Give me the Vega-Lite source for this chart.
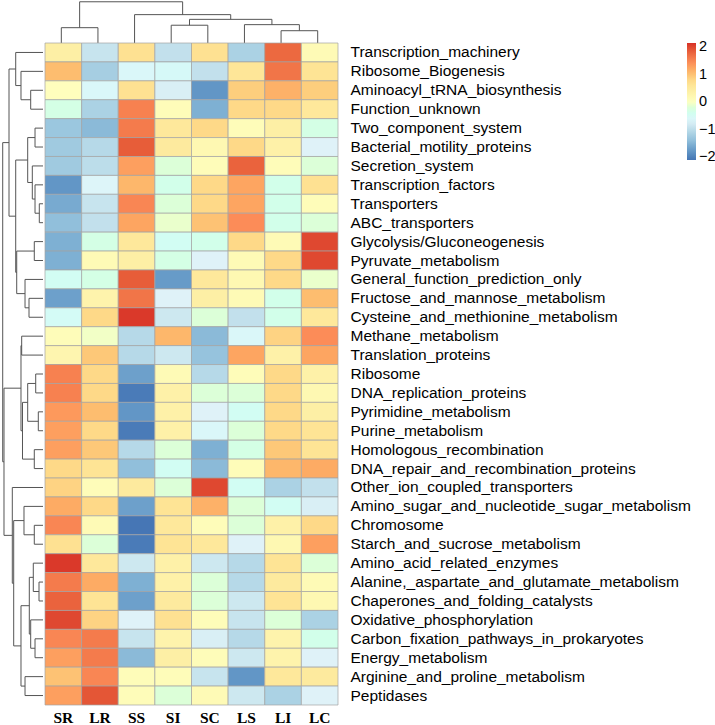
{
"$schema": "https://vega.github.io/schema/vega-lite/v6.json",
"padding": 0,
"background": "white",
"bounds": "flush",
"spacing": 0,
"config": {"view": {"stroke": null}, "concat": {"spacing": 0}},
"datasets": {
"cells": [
{"f":"Transcription_machinery","s":"SR","v":0.4},{"f":"Transcription_machinery","s":"LR","v":-0.9},{"f":"Transcription_machinery","s":"SS","v":0.7},{"f":"Transcription_machinery","s":"SI","v":-0.95},{"f":"Transcription_machinery","s":"SC","v":0.7},{"f":"Transcription_machinery","s":"LS","v":-1.15},{"f":"Transcription_machinery","s":"LI","v":1.75},{"f":"Transcription_machinery","s":"LC","v":0.15},
{"f":"Ribosome_Biogenesis","s":"SR","v":1.05},{"f":"Ribosome_Biogenesis","s":"LR","v":-1.2},{"f":"Ribosome_Biogenesis","s":"SS","v":-0.6},{"f":"Ribosome_Biogenesis","s":"SI","v":-0.55},{"f":"Ribosome_Biogenesis","s":"SC","v":-0.95},{"f":"Ribosome_Biogenesis","s":"LS","v":0.6},{"f":"Ribosome_Biogenesis","s":"LI","v":1.65},{"f":"Ribosome_Biogenesis","s":"LC","v":0.65},
{"f":"Aminoacyl_tRNA_biosynthesis","s":"SR","v":0.05},{"f":"Aminoacyl_tRNA_biosynthesis","s":"LR","v":-0.6},{"f":"Aminoacyl_tRNA_biosynthesis","s":"SS","v":0.7},{"f":"Aminoacyl_tRNA_biosynthesis","s":"SI","v":-0.75},{"f":"Aminoacyl_tRNA_biosynthesis","s":"SC","v":-1.8},{"f":"Aminoacyl_tRNA_biosynthesis","s":"LS","v":0.9},{"f":"Aminoacyl_tRNA_biosynthesis","s":"LI","v":1.15},{"f":"Aminoacyl_tRNA_biosynthesis","s":"LC","v":0.9},
{"f":"Function_unknown","s":"SR","v":-0.3},{"f":"Function_unknown","s":"LR","v":-1.15},{"f":"Function_unknown","s":"SS","v":1.55},{"f":"Function_unknown","s":"SI","v":0.1},{"f":"Function_unknown","s":"SC","v":-1.55},{"f":"Function_unknown","s":"LS","v":0.8},{"f":"Function_unknown","s":"LI","v":0.8},{"f":"Function_unknown","s":"LC","v":0.55},
{"f":"Two_component_system","s":"SR","v":-1.3},{"f":"Two_component_system","s":"LR","v":-1.45},{"f":"Two_component_system","s":"SS","v":1.6},{"f":"Two_component_system","s":"SI","v":0.55},{"f":"Two_component_system","s":"SC","v":0.8},{"f":"Two_component_system","s":"LS","v":0.1},{"f":"Two_component_system","s":"LI","v":0.4},{"f":"Two_component_system","s":"LC","v":-0.3},
{"f":"Bacterial_motility_proteins","s":"SR","v":-1.25},{"f":"Bacterial_motility_proteins","s":"LR","v":-1.05},{"f":"Bacterial_motility_proteins","s":"SS","v":1.85},{"f":"Bacterial_motility_proteins","s":"SI","v":0.5},{"f":"Bacterial_motility_proteins","s":"SC","v":0.2},{"f":"Bacterial_motility_proteins","s":"LS","v":0.8},{"f":"Bacterial_motility_proteins","s":"LI","v":0.35},{"f":"Bacterial_motility_proteins","s":"LC","v":-0.7},
{"f":"Secretion_system","s":"SR","v":-1.25},{"f":"Secretion_system","s":"LR","v":-1.0},{"f":"Secretion_system","s":"SS","v":1.3},{"f":"Secretion_system","s":"SI","v":-0.2},{"f":"Secretion_system","s":"SC","v":0.1},{"f":"Secretion_system","s":"LS","v":1.8},{"f":"Secretion_system","s":"LI","v":0.1},{"f":"Secretion_system","s":"LC","v":-0.2},
{"f":"Transcription_factors","s":"SR","v":-1.8},{"f":"Transcription_factors","s":"LR","v":-0.65},{"f":"Transcription_factors","s":"SS","v":1.1},{"f":"Transcription_factors","s":"SI","v":-0.35},{"f":"Transcription_factors","s":"SC","v":0.8},{"f":"Transcription_factors","s":"LS","v":1.25},{"f":"Transcription_factors","s":"LI","v":-0.35},{"f":"Transcription_factors","s":"LC","v":0.7},
{"f":"Transporters","s":"SR","v":-1.6},{"f":"Transporters","s":"LR","v":-0.9},{"f":"Transporters","s":"SS","v":1.5},{"f":"Transporters","s":"SI","v":-0.2},{"f":"Transporters","s":"SC","v":0.8},{"f":"Transporters","s":"LS","v":1.25},{"f":"Transporters","s":"LI","v":-0.35},{"f":"Transporters","s":"LC","v":0.1},
{"f":"ABC_transporters","s":"SR","v":-1.4},{"f":"ABC_transporters","s":"LR","v":-0.95},{"f":"ABC_transporters","s":"SS","v":1.25},{"f":"ABC_transporters","s":"SI","v":-0.1},{"f":"ABC_transporters","s":"SC","v":1.0},{"f":"ABC_transporters","s":"LS","v":1.45},{"f":"ABC_transporters","s":"LI","v":-0.35},{"f":"ABC_transporters","s":"LC","v":-0.2},
{"f":"Glycolysis/Gluconeogenesis","s":"SR","v":-1.55},{"f":"Glycolysis/Gluconeogenesis","s":"LR","v":-0.3},{"f":"Glycolysis/Gluconeogenesis","s":"SS","v":0.55},{"f":"Glycolysis/Gluconeogenesis","s":"SI","v":-0.45},{"f":"Glycolysis/Gluconeogenesis","s":"SC","v":-0.35},{"f":"Glycolysis/Gluconeogenesis","s":"LS","v":0.8},{"f":"Glycolysis/Gluconeogenesis","s":"LI","v":0.15},{"f":"Glycolysis/Gluconeogenesis","s":"LC","v":2.0},
{"f":"Pyruvate_metabolism","s":"SR","v":-1.55},{"f":"Pyruvate_metabolism","s":"LR","v":0.15},{"f":"Pyruvate_metabolism","s":"SS","v":0.4},{"f":"Pyruvate_metabolism","s":"SI","v":-0.3},{"f":"Pyruvate_metabolism","s":"SC","v":-0.7},{"f":"Pyruvate_metabolism","s":"LS","v":0.15},{"f":"Pyruvate_metabolism","s":"LI","v":0.8},{"f":"Pyruvate_metabolism","s":"LC","v":2.0},
{"f":"General_function_prediction_only","s":"SR","v":-0.45},{"f":"General_function_prediction_only","s":"LR","v":-0.3},{"f":"General_function_prediction_only","s":"SS","v":1.85},{"f":"General_function_prediction_only","s":"SI","v":-1.75},{"f":"General_function_prediction_only","s":"SC","v":0.55},{"f":"General_function_prediction_only","s":"LS","v":0.2},{"f":"General_function_prediction_only","s":"LI","v":0.8},{"f":"General_function_prediction_only","s":"LC","v":-0.1},
{"f":"Fructose_and_mannose_metabolism","s":"SR","v":-1.7},{"f":"Fructose_and_mannose_metabolism","s":"LR","v":0.3},{"f":"Fructose_and_mannose_metabolism","s":"SS","v":1.65},{"f":"Fructose_and_mannose_metabolism","s":"SI","v":-0.7},{"f":"Fructose_and_mannose_metabolism","s":"SC","v":0.4},{"f":"Fructose_and_mannose_metabolism","s":"LS","v":0.15},{"f":"Fructose_and_mannose_metabolism","s":"LI","v":-0.35},{"f":"Fructose_and_mannose_metabolism","s":"LC","v":1.05},
{"f":"Cysteine_and_methionine_metabolism","s":"SR","v":-0.5},{"f":"Cysteine_and_methionine_metabolism","s":"LR","v":0.8},{"f":"Cysteine_and_methionine_metabolism","s":"SS","v":2.1},{"f":"Cysteine_and_methionine_metabolism","s":"SI","v":-0.85},{"f":"Cysteine_and_methionine_metabolism","s":"SC","v":-0.2},{"f":"Cysteine_and_methionine_metabolism","s":"LS","v":-0.95},{"f":"Cysteine_and_methionine_metabolism","s":"LI","v":-0.35},{"f":"Cysteine_and_methionine_metabolism","s":"LC","v":0.55},
{"f":"Methane_metabolism","s":"SR","v":0.1},{"f":"Methane_metabolism","s":"LR","v":-0.05},{"f":"Methane_metabolism","s":"SS","v":-1.05},{"f":"Methane_metabolism","s":"SI","v":1.1},{"f":"Methane_metabolism","s":"SC","v":-1.45},{"f":"Methane_metabolism","s":"LS","v":-0.6},{"f":"Methane_metabolism","s":"LI","v":0.85},{"f":"Methane_metabolism","s":"LC","v":1.45},
{"f":"Translation_proteins","s":"SR","v":0.25},{"f":"Translation_proteins","s":"LR","v":0.95},{"f":"Translation_proteins","s":"SS","v":-1.05},{"f":"Translation_proteins","s":"SI","v":-0.85},{"f":"Translation_proteins","s":"SC","v":-1.35},{"f":"Translation_proteins","s":"LS","v":1.25},{"f":"Translation_proteins","s":"LI","v":0.35},{"f":"Translation_proteins","s":"LC","v":1.25},
{"f":"Ribosome","s":"SR","v":1.55},{"f":"Ribosome","s":"LR","v":0.8},{"f":"Ribosome","s":"SS","v":-1.7},{"f":"Ribosome","s":"SI","v":0.15},{"f":"Ribosome","s":"SC","v":-1.05},{"f":"Ribosome","s":"LS","v":0.1},{"f":"Ribosome","s":"LI","v":0.8},{"f":"Ribosome","s":"LC","v":0.35},
{"f":"DNA_replication_proteins","s":"SR","v":1.55},{"f":"DNA_replication_proteins","s":"LR","v":0.8},{"f":"DNA_replication_proteins","s":"SS","v":-2.05},{"f":"DNA_replication_proteins","s":"SI","v":0.35},{"f":"DNA_replication_proteins","s":"SC","v":-0.2},{"f":"DNA_replication_proteins","s":"LS","v":-0.2},{"f":"DNA_replication_proteins","s":"LI","v":0.8},{"f":"DNA_replication_proteins","s":"LC","v":0.2},
{"f":"Pyrimidine_metabolism","s":"SR","v":1.35},{"f":"Pyrimidine_metabolism","s":"LR","v":1.05},{"f":"Pyrimidine_metabolism","s":"SS","v":-1.8},{"f":"Pyrimidine_metabolism","s":"SI","v":0.35},{"f":"Pyrimidine_metabolism","s":"SC","v":-0.7},{"f":"Pyrimidine_metabolism","s":"LS","v":-0.45},{"f":"Pyrimidine_metabolism","s":"LI","v":0.8},{"f":"Pyrimidine_metabolism","s":"LC","v":0.4},
{"f":"Purine_metabolism","s":"SR","v":1.3},{"f":"Purine_metabolism","s":"LR","v":0.8},{"f":"Purine_metabolism","s":"SS","v":-2.05},{"f":"Purine_metabolism","s":"SI","v":0.35},{"f":"Purine_metabolism","s":"SC","v":-0.6},{"f":"Purine_metabolism","s":"LS","v":-0.2},{"f":"Purine_metabolism","s":"LI","v":0.8},{"f":"Purine_metabolism","s":"LC","v":0.65},
{"f":"Homologous_recombination","s":"SR","v":1.3},{"f":"Homologous_recombination","s":"LR","v":0.95},{"f":"Homologous_recombination","s":"SS","v":-1.05},{"f":"Homologous_recombination","s":"SI","v":-0.2},{"f":"Homologous_recombination","s":"SC","v":-1.55},{"f":"Homologous_recombination","s":"LS","v":-0.3},{"f":"Homologous_recombination","s":"LI","v":0.95},{"f":"Homologous_recombination","s":"LC","v":0.65},
{"f":"DNA_repair_and_recombination_proteins","s":"SR","v":0.8},{"f":"DNA_repair_and_recombination_proteins","s":"LR","v":0.65},{"f":"DNA_repair_and_recombination_proteins","s":"SS","v":-1.4},{"f":"DNA_repair_and_recombination_proteins","s":"SI","v":-0.45},{"f":"DNA_repair_and_recombination_proteins","s":"SC","v":-1.45},{"f":"DNA_repair_and_recombination_proteins","s":"LS","v":0.1},{"f":"DNA_repair_and_recombination_proteins","s":"LI","v":1.1},{"f":"DNA_repair_and_recombination_proteins","s":"LC","v":1.2},
{"f":"Other_ion_coupled_transporters","s":"SR","v":0.85},{"f":"Other_ion_coupled_transporters","s":"LR","v":0.1},{"f":"Other_ion_coupled_transporters","s":"SS","v":0.5},{"f":"Other_ion_coupled_transporters","s":"SI","v":-0.2},{"f":"Other_ion_coupled_transporters","s":"SC","v":2.0},{"f":"Other_ion_coupled_transporters","s":"LS","v":-0.45},{"f":"Other_ion_coupled_transporters","s":"LI","v":-1.15},{"f":"Other_ion_coupled_transporters","s":"LC","v":-0.95},
{"f":"Amino_sugar_and_nucleotide_sugar_metabolism","s":"SR","v":1.2},{"f":"Amino_sugar_and_nucleotide_sugar_metabolism","s":"LR","v":0.8},{"f":"Amino_sugar_and_nucleotide_sugar_metabolism","s":"SS","v":-1.7},{"f":"Amino_sugar_and_nucleotide_sugar_metabolism","s":"SI","v":0.65},{"f":"Amino_sugar_and_nucleotide_sugar_metabolism","s":"SC","v":1.15},{"f":"Amino_sugar_and_nucleotide_sugar_metabolism","s":"LS","v":-0.2},{"f":"Amino_sugar_and_nucleotide_sugar_metabolism","s":"LI","v":-0.45},{"f":"Amino_sugar_and_nucleotide_sugar_metabolism","s":"LC","v":-0.75},
{"f":"Chromosome","s":"SR","v":1.5},{"f":"Chromosome","s":"LR","v":0.15},{"f":"Chromosome","s":"SS","v":-2.1},{"f":"Chromosome","s":"SI","v":0.55},{"f":"Chromosome","s":"SC","v":0.1},{"f":"Chromosome","s":"LS","v":-0.2},{"f":"Chromosome","s":"LI","v":0.35},{"f":"Chromosome","s":"LC","v":0.8},
{"f":"Starch_and_sucrose_metabolism","s":"SR","v":0.7},{"f":"Starch_and_sucrose_metabolism","s":"LR","v":-0.2},{"f":"Starch_and_sucrose_metabolism","s":"SS","v":-2.05},{"f":"Starch_and_sucrose_metabolism","s":"SI","v":0.65},{"f":"Starch_and_sucrose_metabolism","s":"SC","v":0.55},{"f":"Starch_and_sucrose_metabolism","s":"LS","v":-0.7},{"f":"Starch_and_sucrose_metabolism","s":"LI","v":0.2},{"f":"Starch_and_sucrose_metabolism","s":"LC","v":1.3},
{"f":"Amino_acid_related_enzymes","s":"SR","v":2.1},{"f":"Amino_acid_related_enzymes","s":"LR","v":0.55},{"f":"Amino_acid_related_enzymes","s":"SS","v":-0.85},{"f":"Amino_acid_related_enzymes","s":"SI","v":0.35},{"f":"Amino_acid_related_enzymes","s":"SC","v":-0.85},{"f":"Amino_acid_related_enzymes","s":"LS","v":-1.05},{"f":"Amino_acid_related_enzymes","s":"LI","v":0.65},{"f":"Amino_acid_related_enzymes","s":"LC","v":-0.2},
{"f":"Alanine,_aspartate_and_glutamate_metabolism","s":"SR","v":1.6},{"f":"Alanine,_aspartate_and_glutamate_metabolism","s":"LR","v":1.2},{"f":"Alanine,_aspartate_and_glutamate_metabolism","s":"SS","v":-1.55},{"f":"Alanine,_aspartate_and_glutamate_metabolism","s":"SI","v":0.35},{"f":"Alanine,_aspartate_and_glutamate_metabolism","s":"SC","v":-0.2},{"f":"Alanine,_aspartate_and_glutamate_metabolism","s":"LS","v":-1.05},{"f":"Alanine,_aspartate_and_glutamate_metabolism","s":"LI","v":0.5},{"f":"Alanine,_aspartate_and_glutamate_metabolism","s":"LC","v":0.15},
{"f":"Chaperones_and_folding_catalysts","s":"SR","v":1.8},{"f":"Chaperones_and_folding_catalysts","s":"LR","v":0.65},{"f":"Chaperones_and_folding_catalysts","s":"SS","v":-1.7},{"f":"Chaperones_and_folding_catalysts","s":"SI","v":0.5},{"f":"Chaperones_and_folding_catalysts","s":"SC","v":-0.2},{"f":"Chaperones_and_folding_catalysts","s":"LS","v":-0.85},{"f":"Chaperones_and_folding_catalysts","s":"LI","v":0.65},{"f":"Chaperones_and_folding_catalysts","s":"LC","v":0.2},
{"f":"Oxidative_phosphorylation","s":"SR","v":2.0},{"f":"Oxidative_phosphorylation","s":"LR","v":0.85},{"f":"Oxidative_phosphorylation","s":"SS","v":-0.7},{"f":"Oxidative_phosphorylation","s":"SI","v":0.7},{"f":"Oxidative_phosphorylation","s":"SC","v":0.1},{"f":"Oxidative_phosphorylation","s":"LS","v":-0.9},{"f":"Oxidative_phosphorylation","s":"LI","v":-0.2},{"f":"Oxidative_phosphorylation","s":"LC","v":-1.15},
{"f":"Carbon_fixation_pathways_in_prokaryotes","s":"SR","v":1.5},{"f":"Carbon_fixation_pathways_in_prokaryotes","s":"LR","v":1.6},{"f":"Carbon_fixation_pathways_in_prokaryotes","s":"SS","v":-0.9},{"f":"Carbon_fixation_pathways_in_prokaryotes","s":"SI","v":0.3},{"f":"Carbon_fixation_pathways_in_prokaryotes","s":"SC","v":-0.75},{"f":"Carbon_fixation_pathways_in_prokaryotes","s":"LS","v":-1.05},{"f":"Carbon_fixation_pathways_in_prokaryotes","s":"LI","v":0.3},{"f":"Carbon_fixation_pathways_in_prokaryotes","s":"LC","v":-0.35},
{"f":"Energy_metabolism","s":"SR","v":1.3},{"f":"Energy_metabolism","s":"LR","v":1.6},{"f":"Energy_metabolism","s":"SS","v":-1.45},{"f":"Energy_metabolism","s":"SI","v":0.4},{"f":"Energy_metabolism","s":"SC","v":0.1},{"f":"Energy_metabolism","s":"LS","v":-0.85},{"f":"Energy_metabolism","s":"LI","v":0.3},{"f":"Energy_metabolism","s":"LC","v":-0.7},
{"f":"Arginine_and_proline_metabolism","s":"SR","v":1.0},{"f":"Arginine_and_proline_metabolism","s":"LR","v":1.5},{"f":"Arginine_and_proline_metabolism","s":"SS","v":0.1},{"f":"Arginine_and_proline_metabolism","s":"SI","v":0.1},{"f":"Arginine_and_proline_metabolism","s":"SC","v":-0.9},{"f":"Arginine_and_proline_metabolism","s":"LS","v":-1.8},{"f":"Arginine_and_proline_metabolism","s":"LI","v":0.55},{"f":"Arginine_and_proline_metabolism","s":"LC","v":0.5},
{"f":"Peptidases","s":"SR","v":1.3},{"f":"Peptidases","s":"LR","v":1.9},{"f":"Peptidases","s":"SS","v":0.1},{"f":"Peptidases","s":"SI","v":-0.2},{"f":"Peptidases","s":"SC","v":0.15},{"f":"Peptidases","s":"LS","v":-0.85},{"f":"Peptidases","s":"LI","v":-1.15},{"f":"Peptidases","s":"LC","v":-0.7}
],
"rowtree": [
{"h":0.336,"a":2.5,"ha":0,"b":3.5,"hb":0},
{"h":0.601,"a":1.5,"ha":0,"b":3.0,"hb":0.336},
{"h":0.745,"a":0.5,"ha":0,"b":2.25,"hb":0.601},
{"h":0.218,"a":4.5,"ha":0,"b":5.5,"hb":0},
{"h":0.101,"a":8.5,"ha":0,"b":9.5,"hb":0},
{"h":0.218,"a":7.5,"ha":0,"b":9.0,"hb":0.101},
{"h":0.292,"a":6.5,"ha":0,"b":8.25,"hb":0.218},
{"h":0.418,"a":5.0,"ha":0.218,"b":7.375,"hb":0.292},
{"h":0.238,"a":10.5,"ha":0,"b":11.5,"hb":0},
{"h":0.382,"a":13.5,"ha":0,"b":14.5,"hb":0},
{"h":0.491,"a":12.5,"ha":0,"b":14.0,"hb":0.382},
{"h":0.718,"a":11.0,"ha":0.238,"b":13.25,"hb":0.491},
{"h":0.745,"a":6.1875,"ha":0.418,"b":12.125,"hb":0.718},
{"h":0.928,"a":1.375,"ha":0.745,"b":9.15625,"hb":0.745},
{"h":0.582,"a":15.5,"ha":0,"b":16.5,"hb":0},
{"h":0.199,"a":17.5,"ha":0,"b":18.5,"hb":0},
{"h":0.128,"a":19.5,"ha":0,"b":20.5,"hb":0},
{"h":0.418,"a":18.0,"ha":0.199,"b":20.0,"hb":0.128},
{"h":0.238,"a":21.5,"ha":0,"b":22.5,"hb":0},
{"h":0.56,"a":19.0,"ha":0.418,"b":22.0,"hb":0.238},
{"h":0.601,"a":16.0,"ha":0.582,"b":20.5,"hb":0.56},
{"h":0.238,"a":25.5,"ha":0,"b":26.5,"hb":0},
{"h":0.519,"a":24.5,"ha":0,"b":26.0,"hb":0.238},
{"h":0.109,"a":28.5,"ha":0,"b":29.5,"hb":0},
{"h":0.265,"a":27.5,"ha":0,"b":29.0,"hb":0.109},
{"h":0.218,"a":31.5,"ha":0,"b":32.5,"hb":0},
{"h":0.336,"a":30.5,"ha":0,"b":32.0,"hb":0.218},
{"h":0.374,"a":28.25,"ha":0.265,"b":31.25,"hb":0.336},
{"h":0.491,"a":33.5,"ha":0,"b":34.5,"hb":0},
{"h":0.601,"a":29.75,"ha":0.374,"b":34.0,"hb":0.491},
{"h":0.8,"a":25.25,"ha":0.519,"b":31.875,"hb":0.601},
{"h":0.838,"a":23.5,"ha":0,"b":28.5625,"hb":0.8},
{"h":1.065,"a":18.25,"ha":0.601,"b":26.03125,"hb":0.838},
{"h":1.1,"a":5.265625,"ha":0.928,"b":22.140625,"hb":1.065}
],
"coltree": [
{"h":0.81,"a":0.5,"ha":0,"b":1.5,"hb":0},
{"h":0.65,"a":6.5,"ha":0,"b":7.5,"hb":0},
{"h":0.97,"a":5.5,"ha":0,"b":7.0,"hb":0.65},
{"h":0.94,"a":3.5,"ha":0,"b":4.5,"hb":0},
{"h":1.25,"a":4.0,"ha":0.94,"b":6.25,"hb":0.97},
{"h":1.5,"a":2.5,"ha":0,"b":5.125,"hb":1.25},
{"h":2.18,"a":1.0,"ha":0.81,"b":3.8125,"hb":1.5}
]
},
"vconcat": [
{
"width": 336, "height": 43,
"data": {"name": "coltree"},
"layer": [
{"mark": {"type": "rule", "color": "#555555", "strokeWidth": 1},
 "encoding": {
  "x": {"field": "a", "type": "quantitative", "scale": {"domain": [-1.1741, 8], "nice": false, "zero": false}, "axis": null},
  "x2": {"field": "b"},
  "y": {"field": "h", "type": "quantitative", "scale": {"domain": [0, 2.2734], "nice": false, "zero": false}, "axis": null}}},
{"mark": {"type": "rule", "color": "#555555", "strokeWidth": 1},
 "encoding": {
  "x": {"field": "a", "type": "quantitative"},
  "y": {"field": "h", "type": "quantitative"},
  "y2": {"field": "ha"}}},
{"mark": {"type": "rule", "color": "#555555", "strokeWidth": 1},
 "encoding": {
  "x": {"field": "b", "type": "quantitative"},
  "y": {"field": "h", "type": "quantitative"},
  "y2": {"field": "hb"}}}
]
},
{
"spacing": 0,
"hconcat": [
{
"width": 43, "height": 662,
"data": {"name": "rowtree"},
"layer": [
{"mark": {"type": "rule", "color": "#555555", "strokeWidth": 1},
 "encoding": {
  "x": {"field": "h", "type": "quantitative", "scale": {"domain": [0, 1.1741], "nice": false, "zero": false, "reverse": true}, "axis": null},
  "y": {"field": "a", "type": "quantitative", "scale": {"domain": [0, 35], "nice": false, "zero": false, "reverse": true}, "axis": null},
  "y2": {"field": "b"}}},
{"mark": {"type": "rule", "color": "#555555", "strokeWidth": 1},
 "encoding": {
  "x": {"field": "h", "type": "quantitative"},
  "x2": {"field": "ha"},
  "y": {"field": "a", "type": "quantitative"}}},
{"mark": {"type": "rule", "color": "#555555", "strokeWidth": 1},
 "encoding": {
  "x": {"field": "h", "type": "quantitative"},
  "x2": {"field": "hb"},
  "y": {"field": "b", "type": "quantitative"}}}
]
},
{
"width": 293, "height": 662,
"data": {"name": "cells"},
"mark": {"type": "rect", "stroke": "#a3a3a3", "strokeWidth": 0.7},
"encoding": {
 "x": {"field": "s", "type": "nominal", "sort": ["SR","LR","SS","SI","SC","LS","LI","LC"],
   "scale": {"paddingInner": 0, "paddingOuter": 0},
   "axis": {"orient": "bottom", "title": null, "labelAngle": 0, "ticks": false, "tickSize": 0, "domain": false,
     "labelFont": "Liberation Serif", "labelFontWeight": "bold", "labelFontSize": 15.5, "labelColor": "#000000", "labelPadding": 5}},
 "y": {"field": "f", "type": "nominal", "sort": null,
   "scale": {"paddingInner": 0, "paddingOuter": 0},
   "axis": {"orient": "right", "title": null, "ticks": false, "tickSize": 0, "domain": false,
     "labelFont": "Liberation Sans", "labelFontSize": 15.5, "labelColor": "#000000", "labelPadding": 12, "labelLimit": 0}},
 "color": {"field": "v", "type": "quantitative",
   "scale": {"domain": [-2.11, -1.4, -0.69, 0.02, 0.73, 1.44, 2.15],
             "range": ["#4575B4", "#91BFDB", "#E0F3F8", "#FFFFBF", "#FEE090", "#FC8D59", "#D73027"]},
   "legend": {"orient": "none", "legendX": 687, "legendY": 43, "direction": "vertical", "title": null,
     "gradientLength": 117, "gradientThickness": 9, "gradientStrokeWidth": 0,
     "values": [-2, -1, 0, 1, 2], "labelFontSize": 14.5, "labelFont": "Liberation Sans", "labelColor": "#000000",
     "labelOffset": 3, "labelOverlap": false}}
}
}
]
}
]
}
